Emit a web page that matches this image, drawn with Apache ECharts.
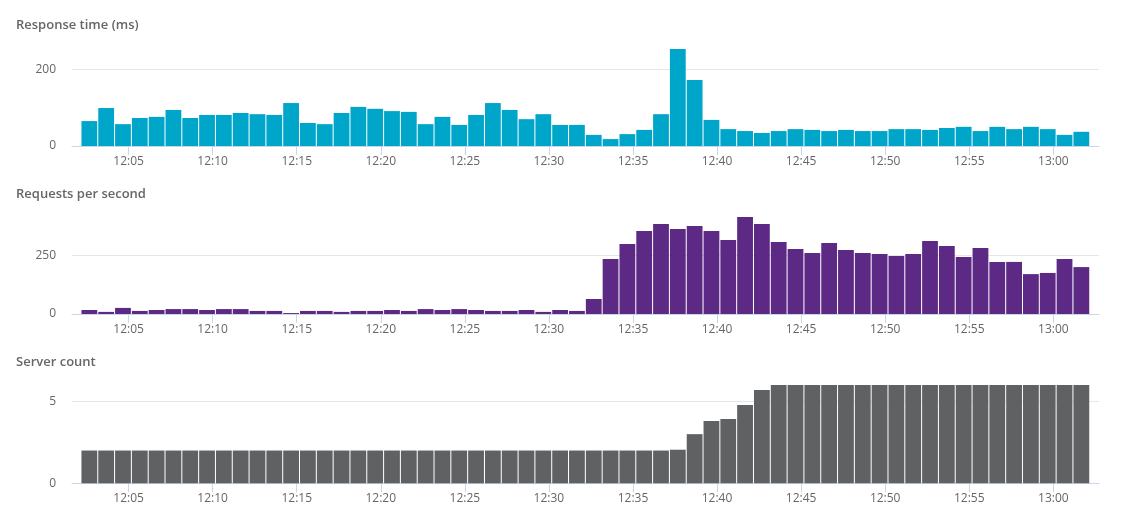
<!DOCTYPE html>
<html>
<head>
<meta charset="utf-8">
<script src="https://cdn.jsdelivr.net/npm/echarts@6/dist/echarts.min.js"></script>
<style>
html,body{margin:0;padding:0;background:#fff;}
#chart{width:1126px;height:512px;}
</style>
</head>
<body>
<div id="chart"></div>
<script>
// Minute of each sample (minutes after 12:00): 12:02 ... 13:01
var sampleMinutes = [];
for (var k = 2; k <= 61; k++) sampleMinutes.push(k);

var responseTime = [65,99,57,73,76,94,73,81,81,86,83,81,112,60,57,86,102,97,91,89,
  57,76,55,81,112,94,70,83,55,55,29,18,31,42,83,253,172,68,44,39,
  34,39,44,42,39,42,39,39,44,44,42,47,50,39,50,44,50,44,29,37];

var requestsPerSecond = [17,9,26,13,17,21,21,17,21,21,13,13,4,13,13,9,13,13,17,13,
  21,17,21,17,13,13,17,9,17,13,64,234,298,354,384,362,375,354,315,413,
  384,307,277,260,303,273,260,256,247,256,311,290,243,281,222,222,170,175,234,200];

var serverCount = [2,2,2,2,2,2,2,2,2,2,2,2,2,2,2,2,2,2,2,2,
  2,2,2,2,2,2,2,2,2,2,2,2,2,2,2,2.05,3,3.8,3.92,4.78,
  5.7,6,6,6,6,6,6,6,6,6,6,6,6,6,6,6,6,6,6,6];

var tickMinutes = [5,10,15,20,25,30,35,40,45,50,55,60];
var tickLabels = ['12:05','12:10','12:15','12:20','12:25','12:30','12:35','12:40','12:45','12:50','12:55','13:00'];

var panelTitles = ['Response time (ms)', 'Requests per second', 'Server count'];
var panelColors = ['#00a6ca', '#5c2a84', '#606163'];

var SAMPLE_OFFSET = 40 / 60; // samples stamped at hh:mm:40
var gridTops = [46.3, 215, 385];
var gridHeights = [99.7, 99, 98.3];
var yMax = [260, 422, 6];
var yInterval = [200, 250, 5];
var titleTops = [18.5, 187.5, 355.5];
var seriesData = [responseTime, requestsPerSecond, serverCount];

var chart = echarts.init(document.getElementById('chart'), null, {renderer: 'canvas'});
var font = '"Open Sans", "Noto Sans", sans-serif';

var option = {
  animation: false,
  title: panelTitles.map(function (t, i) {
    return {
      text: t, left: 16, top: titleTops[i], padding: 0,
      textStyle: {fontFamily: font, fontSize: 13, fontWeight: 600, color: '#666666'}
    };
  }),
  grid: gridTops.map(function (top, i) {
    return {left: 72, right: 27, top: top, height: gridHeights[i], containLabel: false};
  }),
  xAxis: gridTops.map(function (top, i) {
    return {
      type: 'value', gridIndex: i, min: 1.635, max: 62.717,
      axisLine: {show: true, lineStyle: {color: '#ccd6eb', width: 1}},
      axisTick: {show: true, length: 9, lineStyle: {color: '#ccd6eb'}, customValues: tickMinutes},
      axisLabel: {
        show: true, margin: 9.5, color: '#666666', fontFamily: font, fontSize: 12,
        customValues: tickMinutes,
        formatter: function (v) {
          var idx = tickMinutes.indexOf(Math.round(v));
          return idx >= 0 ? tickLabels[idx] : '';
        }
      },
      splitLine: {show: false}
    };
  }),
  yAxis: gridTops.map(function (top, i) {
    return {
      type: 'value', gridIndex: i, min: 0, max: yMax[i], interval: yInterval[i],
      axisLine: {show: false}, axisTick: {show: false},
      axisLabel: {margin: 16, color: '#666666', fontFamily: font, fontSize: 12, showMaxLabel: false},
      splitLine: {show: true, showMaxLine: false, lineStyle: {color: '#e6e6e6', width: 1}}
    };
  }),
  series: seriesData.map(function (vals, i) {
    return {
      type: 'bar', xAxisIndex: i, yAxisIndex: i,
      barWidth: 15.8,
      itemStyle: {color: panelColors[i]},
      data: vals.map(function (v, j) { return [sampleMinutes[j] + SAMPLE_OFFSET, v]; })
    };
  })
};
chart.setOption(option);
</script>
</body>
</html>
